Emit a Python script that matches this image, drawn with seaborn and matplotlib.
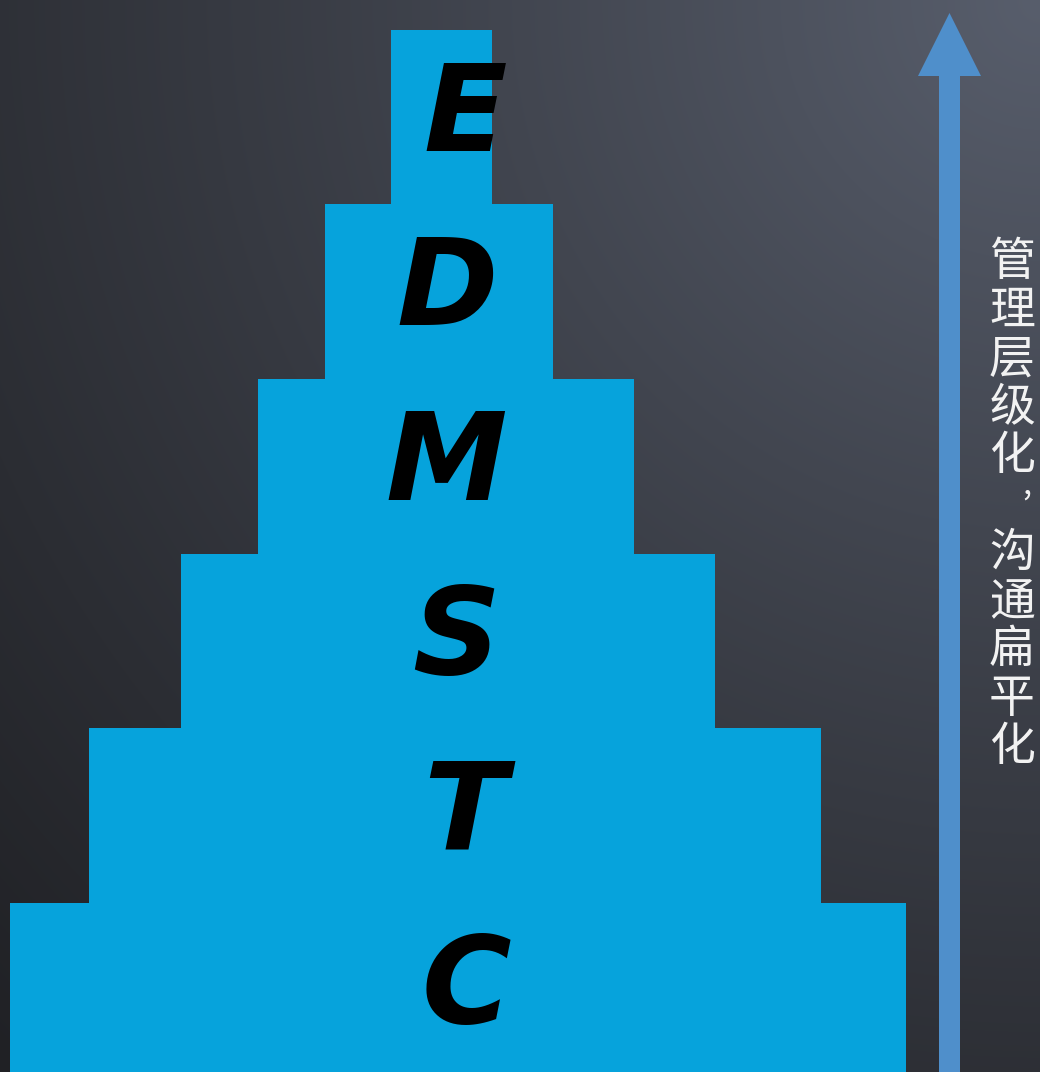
import numpy as np
import pandas as pd
import matplotlib
matplotlib.use("Agg")
import matplotlib.pyplot as plt
from matplotlib.patches import FancyArrow
import seaborn as sns

# ── data: pyramid levels, top to bottom ────────────────────────────────
levels  = ["E", "D", "M", "S", "T", "C"]
widths  = [101, 228, 376, 534, 732, 896]          # bar width
centers = [-8.5, -11, -4, -2, 5, 8]               # bar centre offset from axis 0
letter_dx = [16, 0, -8, 0, 2, 0]                  # nudges for the italic letters
caption = list("管理层级化") + [","] + list("沟通扁平化")

BAR_COLOR   = "#06a3dc"
ARROW_COLOR = "#4f8fcb"
W, H = 1040, 1072

sns.set_theme(style="white")
plt.rcParams["font.family"] = ["Noto Sans CJK SC", "DejaVu Sans"]

df = pd.DataFrame({"level": levels,
                   "left":  [c - w / 2 for c, w in zip(centers, widths)],
                   "right": [c + w / 2 for c, w in zip(centers, widths)]})

fig = plt.figure(figsize=(W / 100, H / 100), dpi=100)

# background gradient (light at top-right, dark at bottom-left)
bg = fig.add_axes([0, 0, 1, 1])
yy, xx = np.mgrid[0:H, 0:W]
d = np.hypot(xx - W, yy)
f = (np.clip(1 - d / 1500, 0, 1) ** 1.15)[..., None]
light = np.array([88, 94, 108]) / 255
dark = np.array([32, 33, 37]) / 255
bg.imshow(dark + (light - dark) * f, extent=(0, W, H, 0), aspect="auto")
bg.set_xlim(0, W); bg.set_ylim(H, 0); bg.axis("off")

# arrow
bg.add_patch(FancyArrow(949.5, H + 10, 0, -(H + 10 - 13), width=21,
                        head_width=63, head_length=63,
                        length_includes_head=True, color=ARROW_COLOR, lw=0))

# vertical caption
y0, step = 262, 48.5
for i, ch in enumerate(caption):
    y = y0 + i * step
    if ch == ",":
        bg.text(1027, y - 20, ch, fontsize=24, color="#f2f2f2",
                ha="center", va="center")
    else:
        bg.text(1012, y, ch, fontsize=33, color="#f2f2f2",
                ha="center", va="center")

# pyramid bars: each level drawn as a left and a right half from 0
ax = fig.add_axes([0, 0, 1, 1])
ax.patch.set_alpha(0)
for col in ["left", "right"]:
    sns.barplot(data=df, x=col, y="level", order=levels, orient="h",
                color=BAR_COLOR, saturation=1, width=1, linewidth=0, ax=ax)
ax.set_xlim(-450, W - 450)
ax.set_ylim(5.5 - 5 / 174.5, -0.5 - 30 / 174.5)
ax.axis("off")

for i, (lv, c, dx) in enumerate(zip(levels, centers, letter_dx)):
    ax.text(c + 8 + dx, i, lv, fontsize=88, fontweight="bold",
            fontstyle="italic", family="DejaVu Sans", color="black",
            ha="center", va="center")

fig.savefig("out.png", dpi=100)
